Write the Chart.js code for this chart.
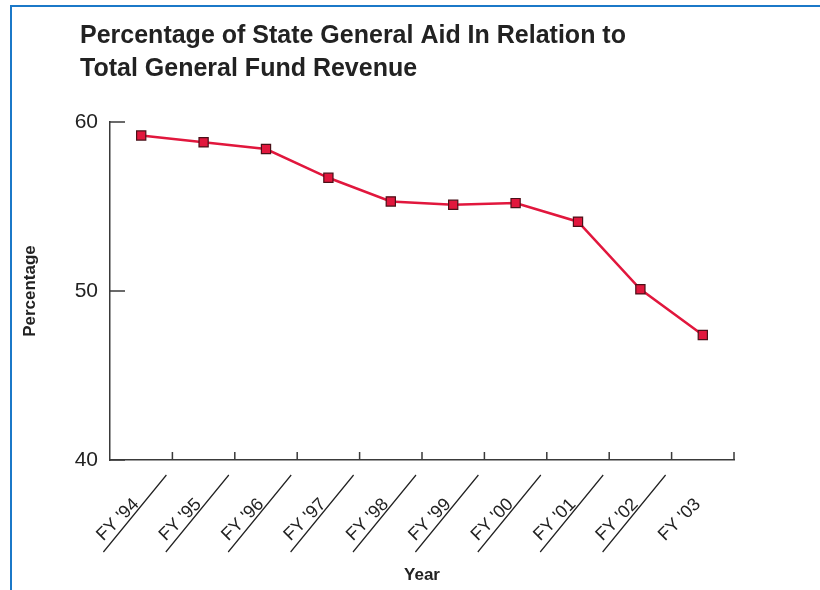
<!DOCTYPE html>
<html>
<head>
<meta charset="utf-8">
<script src="https://cdn.jsdelivr.net/npm/chart.js@4.4.0/dist/chart.umd.min.js"></script>
<style>
  html, body { margin: 0; padding: 0; background: #fff; }
  #wrap { position: relative; width: 820px; height: 590px; }
  /* blue frame along the top and left edges */
  #wrap:before { content: ''; position: absolute; left: 10px; top: 5px; right: 0; height: 2px; background: #1b78c8; }
  #wrap:after { content: ''; position: absolute; left: 10px; top: 5px; bottom: 0; width: 2px; background: #1b78c8; }
  canvas { position: absolute; left: 0; top: 0; }
</style>
</head>
<body>
<div id="wrap"><canvas id="myChart" width="820" height="590"></canvas></div>
<script>
// Fiscal years and state aid share of general fund revenue (%)
const years = ["FY '94", "FY '95", "FY '96", "FY '97", "FY '98", "FY '99", "FY '00", "FY '01", "FY '02", "FY '03"];
const aidPercent = [59.2, 58.8, 58.4, 56.7, 55.3, 55.1, 55.2, 54.1, 50.1, 47.4];
const yTicks = [40, 50, 60];

const titleLines = ['Percentage of State General Aid In Relation to', 'Total General Fund Revenue'];
const fontFamily = '"Liberation Sans", Arial, Helvetica, sans-serif';
const axisColor = '#3a3a3a';

// Inward tick marks, plus slanted separators between the year labels
const axisDecor = {
  id: 'axisDecor',
  afterDraw(chart) {
    const ctx = chart.ctx;
    const x = chart.scales.x;
    const y = chart.scales.y;
    const n = years.length;
    const step = (x.right - x.left) / n;
    ctx.save();
    ctx.strokeStyle = axisColor;
    ctx.lineWidth = 1.5;
    ctx.beginPath();
    // x ticks at category boundaries, pointing up
    for (let i = 1; i <= n; i++) {
      const px = x.left + i * step;
      ctx.moveTo(px, y.bottom);
      ctx.lineTo(px, y.bottom - 8);
    }
    // y ticks pointing right
    yTicks.forEach(v => {
      const py = y.getPixelForValue(v);
      ctx.moveTo(x.left, py);
      ctx.lineTo(x.left + 15, py);
    });
    ctx.stroke();
    // separators below the axis
    ctx.lineWidth = 1.2;
    ctx.strokeStyle = '#222';
    ctx.beginPath();
    for (let i = 1; i < n; i++) {
      const px = x.left + i * step;
      ctx.moveTo(px - 6, y.bottom + 15);
      ctx.lineTo(px - 69, y.bottom + 92);
    }
    ctx.stroke();
    ctx.restore();
  }
};

// Two-line heading, left aligned
const heading = {
  id: 'heading',
  afterDraw(chart) {
    const ctx = chart.ctx;
    ctx.save();
    ctx.fillStyle = '#222';
    ctx.font = 'bold 25px ' + fontFamily;
    ctx.textBaseline = 'alphabetic';
    ctx.fillText(titleLines[0], 80, 43);
    ctx.fillText(titleLines[1], 80, 76);
    ctx.restore();
  }
};

const ctx = document.getElementById('myChart').getContext('2d');

new Chart(ctx, {
  type: 'line',
  data: {
    labels: years,
    datasets: [{
      label: 'Percentage',
      data: aidPercent,
      borderColor: '#e1173d',
      borderWidth: 2.5,
      backgroundColor: '#e1173d',
      pointStyle: 'rect',
      pointRadius: 6.5,
      pointBorderColor: '#4a1018',
      pointBorderWidth: 1.2,
      tension: 0
    }]
  },
  options: {
    responsive: false,
    animation: false,
    layout: { padding: { top: 122, right: 86, left: 0, bottom: 0 } },
    plugins: {
      legend: { display: false },
      tooltip: { enabled: false },
      title: { display: false }
    },
    scales: {
      x: {
        type: 'category',
        offset: true,
        grid: { display: false, offset: true },
        border: { display: true, color: axisColor, width: 1.5 },
        ticks: {
          maxRotation: 45,
          minRotation: 45,
          autoSkip: false,
          padding: 26,
          labelOffset: -5,
          color: '#222',
          font: { family: fontFamily, size: 18 }
        },
        title: {
          display: true,
          text: 'Year',
          color: '#222',
          padding: { bottom: 4 },
          font: { family: fontFamily, size: 17, weight: 'bold' }
        },
        afterFit(scale) { scale.height = 130; }
      },
      y: {
        min: 40,
        max: 60,
        afterBuildTicks(scale) { scale.ticks = yTicks.map(v => ({ value: v })); },
        grid: { display: false },
        border: { display: true, color: axisColor, width: 1.5 },
        ticks: {
          padding: 4,
          color: '#222',
          font: { family: fontFamily, size: 21 }
        },
        title: {
          display: true,
          text: 'Percentage',
          color: '#222',
          padding: { top: 20 },
          font: { family: fontFamily, size: 17, weight: 'bold' }
        },
        afterFit(scale) { scale.width = 110; }
      }
    }
  },
  plugins: [axisDecor, heading]
});
</script>
</body>
</html>
